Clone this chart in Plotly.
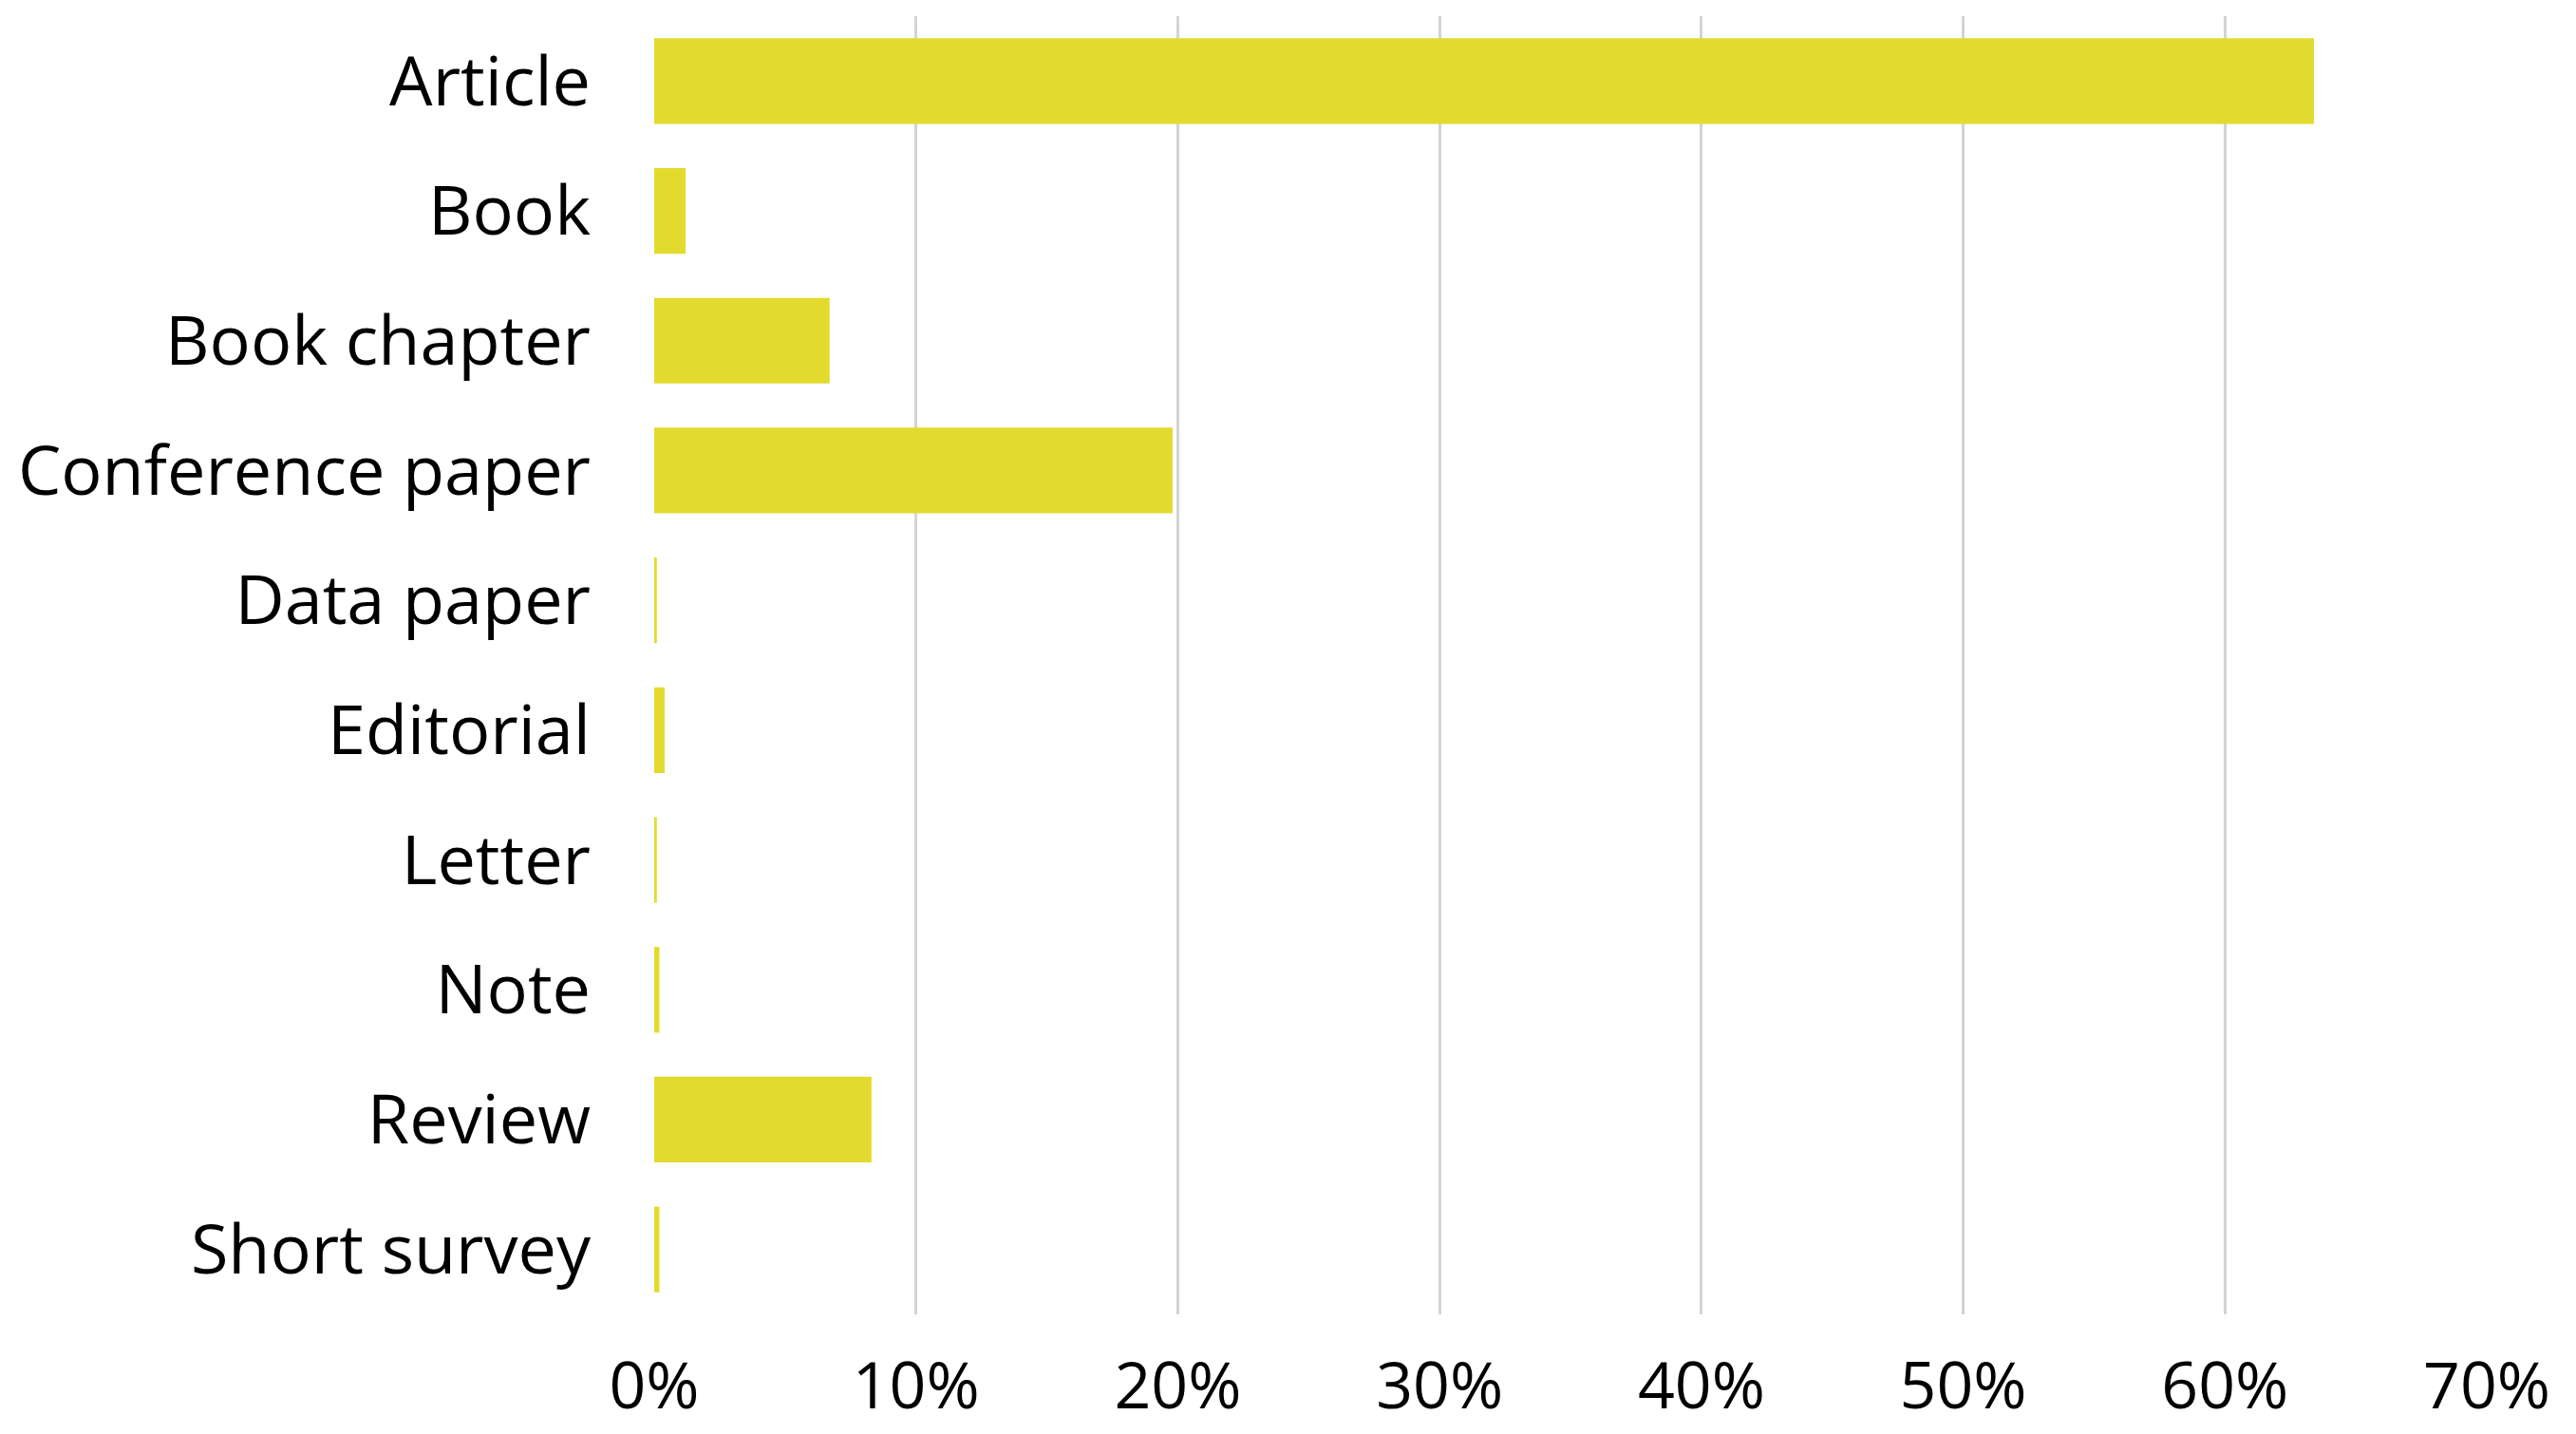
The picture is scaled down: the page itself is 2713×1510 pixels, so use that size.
import plotly.graph_objects as go

# document types and their share of publications (%)
doc_types = ["Article", "Book", "Book chapter", "Conference paper", "Data paper",
             "Editorial", "Letter", "Note", "Review", "Short survey"]
shares = [63.4, 1.2, 6.7, 19.8, 0.1, 0.4, 0.1, 0.2, 8.3, 0.2]

x_ticks = [0, 10, 20, 30, 40, 50, 60, 70]
x_tick_labels = ["0%", "10%", "20%", "30%", "40%", "50%", "60%", "70%"]

fig = go.Figure(go.Bar(
    x=shares,
    y=doc_types,
    orientation="h",
    marker_color="#E2DB2E",
    marker_line_width=0,
))

fig.update_layout(
    width=2713,
    height=1510,
    margin=dict(l=689, r=94, t=17, b=126),
    plot_bgcolor="white",
    paper_bgcolor="white",
    font=dict(family="Open Sans", size=72, color="black"),
    bargap=0.34,
    showlegend=False,
)
fig.update_xaxes(
    range=[0, 70],
    tickvals=x_ticks,
    ticktext=x_tick_labels,
    tickfont_size=68,
    showgrid=True,
    gridcolor="#d4d4d4",
    gridwidth=3,
    zeroline=False,
    showline=False,
    ticks="",
    ticklabelstandoff=30,
    automargin=False,
)
fig.update_yaxes(
    autorange="reversed",
    showgrid=False,
    showline=False,
    ticks="",
    ticklabelstandoff=66,
    automargin=False,
)

# drop the default page margin so the figure fills the window
fig.write_html("out.html", config={"displayModeBar": False},
               post_script="document.body.style.margin='0';")
